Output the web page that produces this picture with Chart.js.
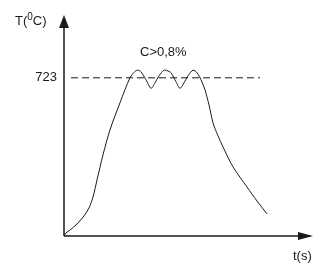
<!DOCTYPE html>
<html>
<head>
<meta charset="utf-8">
<script src="https://cdn.jsdelivr.net/npm/chart.js@4/dist/chart.umd.min.js"></script>
<style>
  html, body { margin: 0; padding: 0; background: #fff; }
</style>
</head>
<body>
<canvas id="chart" width="335" height="274"></canvas>
<script>
// time (arbitrary units) and temperature
const times = [0, 2, 6, 13, 20, 25, 29, 33, 39, 46, 56, 66, 71, 74, 77, 82, 87, 91, 95, 100,
  103, 107, 112, 116, 120, 124, 129, 133, 137, 141, 145, 149, 154, 159, 169, 183, 193, 203];
const temps = [0, 14, 27, 55, 92, 128, 178, 256, 371, 485, 609, 723, 752, 758, 750, 714, 675, 700, 732, 758,
  756, 746, 705, 675, 700, 732, 758, 746, 714, 668, 599, 517, 458, 407, 316, 224, 160, 101];
const eutectoid = 723;
const lineStart = 7, lineEnd = 196;
const yTicks = [723];

const font = '13px Arial, "Liberation Sans", sans-serif';
const ink = '#1a1a1a';

const axesPlugin = {
  id: 'axes',
  afterDraw(chart) {
    const ctx = chart.ctx;
    const x = chart.scales.x, y = chart.scales.y;
    const x0 = x.getPixelForValue(0), y0 = y.getPixelForValue(0);
    const top = chart.chartArea.top, right = chart.chartArea.right;
    ctx.save();
    ctx.strokeStyle = ink;
    ctx.fillStyle = ink;
    ctx.lineWidth = 1.5;
    ctx.beginPath();
    ctx.moveTo(x0, y0);
    ctx.lineTo(x0, top + 6);
    ctx.moveTo(x0, y0);
    ctx.lineTo(right - 6, y0);
    ctx.stroke();
    // arrow heads
    ctx.beginPath();
    ctx.moveTo(x0, top);
    ctx.lineTo(x0 - 5, top + 13);
    ctx.lineTo(x0 + 5, top + 13);
    ctx.closePath();
    ctx.fill();
    ctx.beginPath();
    ctx.moveTo(right, y0);
    ctx.lineTo(right - 15, y0 - 4);
    ctx.lineTo(right - 15, y0 + 4);
    ctx.closePath();
    ctx.fill();

    ctx.font = font;
    ctx.textBaseline = 'middle';
    ctx.textAlign = 'right';
    yTicks.forEach(v => ctx.fillText(String(v), x0 - 7, y.getPixelForValue(v)));

    ctx.textAlign = 'left';
    ctx.fillText('C>0,8%', 140, 52);
    ctx.fillText('t(s)', 293, 256);
    // T(0C) with raised zero
    let tx = 15;
    ctx.fillText('T(', tx, 21);
    tx += ctx.measureText('T(').width;
    ctx.font = '10px Arial, "Liberation Sans", sans-serif';
    ctx.fillText('0', tx, 17);
    tx += ctx.measureText('0').width;
    ctx.font = font;
    ctx.fillText('C)', tx, 21);
    ctx.restore();
  }
};

new Chart(document.getElementById('chart'), {
  type: 'line',
  data: {
    datasets: [{
      data: times.map((t, i) => ({ x: t, y: temps[i] })),
      borderColor: ink,
      borderWidth: 1,
      pointRadius: 0,
      tension: 0.3,
      fill: false
    }, {
      data: [{ x: lineStart, y: eutectoid }, { x: lineEnd, y: eutectoid }],
      borderColor: ink,
      borderWidth: 1,
      borderDash: [7, 4],
      pointRadius: 0,
      fill: false
    }]
  },
  options: {
    responsive: false,
    animation: false,
    events: [],
    layout: { padding: { left: 64, right: 22, top: 15, bottom: 38 } },
    plugins: { legend: { display: false }, tooltip: { enabled: false } },
    scales: {
      x: { type: 'linear', min: 0, max: 249, display: false },
      y: { min: 0, max: 1010, display: false }
    }
  },
  plugins: [axesPlugin]
});
</script>
</body>
</html>
